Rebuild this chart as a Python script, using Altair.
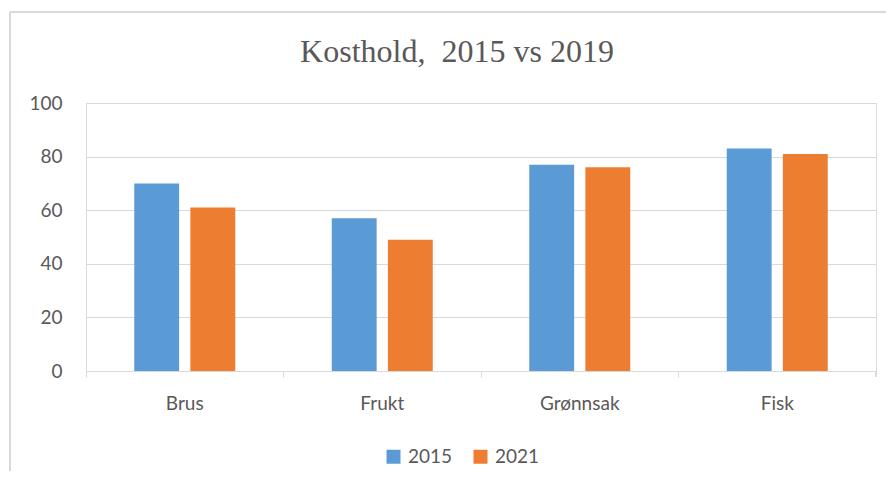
import altair as alt
import pandas as pd

categories = ["Brus", "Frukt", "Grønnsak", "Fisk"]
series = ["2015", "2021"]
values_2015 = [70, 57, 77, 83]
values_2021 = [61, 49, 76, 81]
y_ticks = [0, 20, 40, 60, 80, 100]
colors = ["#5B9BD5", "#ED7D31"]
title_text = "Kosthold,\u00a0 2015 vs 2019"

rows = []
for c, a, b in zip(categories, values_2015, values_2021):
    rows.append({"Kategori": c, "År": "2015", "Verdi": a})
    rows.append({"Kategori": c, "År": "2021", "Verdi": b})
df = pd.DataFrame(rows)

GRAY = "#595959"
LINE = "#d9d9d9"
FONT = "Lato"

W, H = 790, 268

bars = alt.Chart(df).mark_bar().encode(
    x=alt.X("Kategori:N", sort=categories, title=None,
            scale=alt.Scale(paddingInner=0, paddingOuter=0),
            axis=alt.Axis(labelAngle=0, bandPosition=0, grid=False,
                          domainColor=LINE, tickColor=LINE, tickSize=6,
                          labelPadding=17, labelFontSize=19, labelColor=GRAY,
                          labelFont=FONT)),
    xOffset=alt.XOffset("År:N", sort=series,
                        scale=alt.Scale(paddingInner=0.2, paddingOuter=0.86)),
    y=alt.Y("Verdi:Q", title=None,
            scale=alt.Scale(domain=[0, 100]),
            axis=alt.Axis(values=y_ticks, domain=False, ticks=False,
                          gridColor=LINE, gridWidth=1, labelPadding=24,
                          labelFontSize=19, labelColor=GRAY, labelFont=FONT)),
    color=alt.Color("År:N", sort=series,
                    scale=alt.Scale(domain=series, range=colors),
                    legend=alt.Legend(title=None, orient="none",
                                      direction="horizontal",
                                      legendX=298, legendY=344,
                                      symbolType="square", symbolSize=196,
                                      symbolStrokeWidth=0,
                                      labelFontSize=19, labelColor=GRAY,
                                      labelFont=FONT, columnPadding=18,
                                      labelOffset=5)),
)

end_tick = alt.Chart(df).mark_rule(color=LINE, strokeWidth=1).encode(
    x=alt.value(W), y=alt.value(H), y2=alt.value(H + 6)
)

frame_top = alt.Chart(df).mark_rule(color=LINE, strokeWidth=1.5).encode(
    x=alt.value(-76), x2=alt.value(900), y=alt.value(-91)
)
frame_left = alt.Chart(df).mark_rule(color=LINE, strokeWidth=1.5).encode(
    x=alt.value(-76), y=alt.value(-91), y2=alt.value(400)
)

title = alt.Chart(pd.DataFrame({"t": [title_text]})).mark_text(
    font="Liberation Serif", fontSize=32, color=GRAY,
    align="center", baseline="middle"
).encode(text="t:N", x=alt.value(371), y=alt.value(-51))

chart = alt.layer(bars, end_tick, frame_top, frame_left, title).properties(
    width=W, height=H,
    autosize=alt.AutoSizeParams(type="none"),
    padding={"left": 78, "top": 95, "right": 10, "bottom": 100},
).configure_view(stroke=None).configure(background="white")

chart.save("out.html", embed_options={"renderer": "svg", "actions": False})
